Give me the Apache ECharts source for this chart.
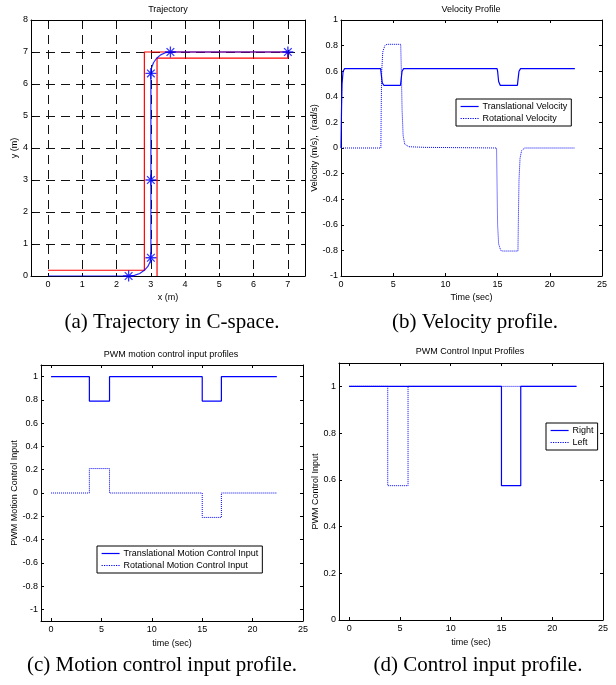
<!DOCTYPE html>
<html>
<head>
<meta charset="utf-8">
<script src="https://cdn.jsdelivr.net/npm/echarts@6/dist/echarts.min.js"></script>
<style>
  html, body { margin: 0; padding: 0; background: #fff; }
  #main { width: 616px; height: 685px; }
</style>
</head>
<body>
<div id="main"></div>
<script>
// (a) trajectory in C-space
var corridorLeft = [[0, 0.18], [2.81, 0.18], [2.81, 7.0], [7.0, 7.0]];
var corridorRight = [[3.18, 0], [3.18, 6.81], [7.0, 6.81], [7.0, 7.0]];
var pathXY = [
  [0, 0], [2.35, 0], [2.52, 0.02], [2.675, 0.08], [2.81, 0.176], [2.913, 0.3],
  [2.978, 0.445], [3.0, 0.6], [3.0, 6.33], [3.019, 6.503], [3.076, 6.665],
  [3.167, 6.804], [3.285, 6.91], [3.422, 6.977], [3.57, 7.0], [7.0, 7.0]
];
var waypoints = [[2.35, 0], [3.0, 0.57], [3.0, 3.0], [3.0, 6.33], [3.57, 7.0], [7.0, 7.0]];

// (b) velocity profile
var transVel = [
  [0, 0], [0.05, 0.3], [0.1, 0.5], [0.2, 0.6], [0.35, 0.62], [3.8, 0.62], [3.85, 0.58],
  [3.95, 0.51], [4.1, 0.49], [5.7, 0.49], [5.75, 0.53], [5.85, 0.6], [6.0, 0.62],
  [14.95, 0.62], [15.0, 0.6], [15.1, 0.52], [15.25, 0.49], [16.9, 0.49], [16.95, 0.53],
  [17.05, 0.6], [17.2, 0.62], [22.4, 0.62]
];
var rotVel = [
  [0, 0], [3.82, 0], [3.85, 0.3], [3.9, 0.6], [4.0, 0.75], [4.2, 0.8], [4.4, 0.81],
  [5.72, 0.81], [5.78, 0.6], [5.85, 0.3], [5.95, 0.1], [6.1, 0.03], [6.5, 0.01],
  [8.0, 0.005], [14.9, 0], [14.95, -0.3], [15.0, -0.6], [15.1, -0.75], [15.3, -0.8],
  [15.5, -0.805], [16.95, -0.805], [17.0, -0.5], [17.05, -0.25], [17.15, -0.08],
  [17.3, -0.02], [17.6, 0], [22.4, 0]
];

// (c) motion control inputs
var transInput = [[0, 1], [3.8, 1], [3.8, 0.79], [5.8, 0.79], [5.8, 1], [15, 1], [15, 0.79], [16.9, 0.79], [16.9, 1], [22.4, 1]];
var rotInput = [[0, 0], [3.8, 0], [3.8, 0.21], [5.8, 0.21], [5.8, 0], [15, 0], [15, -0.21], [16.9, -0.21], [16.9, 0], [22.4, 0]];

// (d) wheel control inputs
var rightInput = [[0, 1], [15, 1], [15, 0.575], [16.9, 0.575], [16.9, 1], [22.4, 1]];
var leftInput = [[0, 1], [3.8, 1], [3.8, 0.575], [5.8, 0.575], [5.8, 1], [22.4, 1]];

var titles = ['Trajectory', 'Velocity Profile', 'PWM motion control input profiles', 'PWM Control Input Profiles'];
var captions = ['(a) Trajectory in C-space.', '(b) Velocity profile.', '(c) Motion control input profile.', '(d) Control input profile.'];

var BLUE = '#0000ff';
var RED = '#ff0000';
var FONT = 'Liberation Sans, Arial, sans-serif';

var myChart = echarts.init(document.getElementById('main'));

function mainX(grid, opt) {
  return Object.assign({
    type: 'value', gridIndex: grid, position: 'bottom',
    nameLocation: 'middle', nameGap: 16,
    nameTextStyle: { fontSize: 9, fontFamily: FONT, color: '#000' },
    axisLine: { onZero: false, lineStyle: { color: '#000', width: 1 } },
    axisTick: { inside: true, length: 3, lineStyle: { color: '#000' } },
    axisLabel: { fontSize: 9, fontFamily: FONT, color: '#000', margin: 4, showMinLabel: false },
    splitLine: { show: false }
  }, opt);
}
function mainY(grid, opt) {
  return Object.assign({
    type: 'value', gridIndex: grid, position: 'left',
    nameLocation: 'middle', nameGap: 20,
    nameTextStyle: { fontSize: 9, fontFamily: FONT, color: '#000' },
    axisLine: { onZero: false, lineStyle: { color: '#000', width: 1 } },
    axisTick: { inside: true, length: 3, lineStyle: { color: '#000' } },
    axisLabel: { fontSize: 9, fontFamily: FONT, color: '#000', margin: 3 },
    splitLine: { show: false }
  }, opt);
}
function mirror(kind, grid, min, max, extra) {
  return Object.assign({
    type: 'value', gridIndex: grid, position: kind === 'x' ? 'top' : 'right',
    min: min, max: max,
    axisLine: { onZero: false, lineStyle: { color: '#000', width: 1 } },
    axisTick: { inside: true, length: 3, lineStyle: { color: '#000' } },
    axisLabel: { show: false },
    splitLine: { show: false }
  }, extra);
}

var gridDash = { show: true, lineStyle: { color: '#111', width: 1, type: [9, 6] } };

var option = {
  backgroundColor: '#fff',
  animation: false,
  title: [
    { text: titles[0], left: 168, top: 5, textAlign: 'center' },
    { text: titles[1], left: 471, top: 5, textAlign: 'center' },
    { text: titles[2], left: 171, top: 350, textAlign: 'center' },
    { text: titles[3], left: 470, top: 347, textAlign: 'center' }
  ].map(function (t) {
    t.padding = 0;
    t.textStyle = { fontSize: 9, fontWeight: 'normal', fontFamily: FONT, color: '#000' };
    return t;
  }),
  graphic: [
    { left: 172, top: 312, caption: 0 },
    { left: 475, top: 312, caption: 1 },
    { left: 162, top: 655, caption: 2 },
    { left: 478, top: 655, caption: 3 }
  ].map(function (g) {
    return {
      type: 'text', x: g.left, y: g.top,
      style: { text: captions[g.caption], font: '21px "Liberation Serif", "Times New Roman", serif', fill: '#000', textAlign: 'center' }
    };
  }),
  legend: [
    {
      data: ['Translational Velocity', 'Rotational Velocity'],
      left: 456, top: 99, orient: 'vertical'
    },
    {
      data: ['Translational Motion Control Input', 'Rotational Motion Control Input'],
      left: 97, top: 546, orient: 'vertical'
    },
    {
      data: ['Right', 'Left'],
      left: 546, top: 423, orient: 'vertical'
    }
  ].map(function (l) {
    l.borderColor = '#000';
    l.borderWidth = 1;
    l.borderRadius = 0;
    l.backgroundColor = '#fff';
    l.padding = [3, 4, 3, 4];
    l.itemGap = 3;
    l.itemWidth = 18;
    l.itemHeight = 10;
    l.selectedMode = false;
    l.itemStyle = { color: 'transparent', borderColor: 'transparent', borderWidth: 0, opacity: 0 };
    l.lineStyle = { width: 1.2, color: BLUE };
    l.textStyle = { fontSize: 9, fontFamily: FONT, color: '#000', padding: [0, 0, 0, -1] };
    return l;
  }),
  grid: [
    { left: 31, top: 20, width: 274, height: 256 },
    { left: 341, top: 20, width: 261, height: 256 },
    { left: 41, top: 365, width: 262, height: 256 },
    { left: 339, top: 363, width: 264, height: 257 }
  ],
  xAxis: [
    mainX(0, { min: -0.5, max: 7.5, splitNumber: 8, name: 'x (m)', nameGap: 17, splitLine: gridDash,
      axisLabel: { fontSize: 9, fontFamily: FONT, color: '#000', margin: 4, showMinLabel: false, showMaxLabel: false } }),
    mainX(1, { min: 0, max: 25, interval: 5, name: 'Time (sec)', nameGap: 17,
      axisLabel: { fontSize: 9, fontFamily: FONT, color: '#000', margin: 4 } }),
    mainX(2, { min: -1, max: 25, splitNumber: 5, name: 'time (sec)', nameGap: 18 }),
    mainX(3, { min: -1, max: 25, splitNumber: 5, name: 'time (sec)', nameGap: 18 }),
    mirror('x', 0, -0.5, 7.5, { splitNumber: 8 }),
    mirror('x', 1, 0, 25, { interval: 5 }),
    mirror('x', 2, -1, 25, { splitNumber: 5 }),
    mirror('x', 3, -1, 25, { splitNumber: 5 })
  ],
  yAxis: [
    mainY(0, { min: 0, max: 8, interval: 1, name: 'y (m)', nameGap: 12, splitLine: gridDash }),
    mainY(1, { min: -1, max: 1, interval: 0.2, name: 'Velocity (m/s),  (rad/s)', nameGap: 20 }),
    mainY(2, { min: -1.1, max: 1.1, splitNumber: 11, name: 'PWM Motion Control Input', nameGap: 20,
      axisLabel: { fontSize: 9, fontFamily: FONT, color: '#000', margin: 3, showMinLabel: false, showMaxLabel: false } }),
    mainY(3, { min: 0, max: 1.1, splitNumber: 6, name: 'PWM Control Input', nameGap: 18,
      axisLabel: { fontSize: 9, fontFamily: FONT, color: '#000', margin: 3, showMaxLabel: false } }),
    mirror('y', 0, 0, 8, { interval: 1 }),
    mirror('y', 1, -1, 1, { interval: 0.2 }),
    mirror('y', 2, -1.1, 1.1, { splitNumber: 11 }),
    mirror('y', 3, 0, 1.1, { splitNumber: 6 })
  ],
  series: [
    { name: 'corridorL', type: 'line', xAxisIndex: 0, yAxisIndex: 0, data: corridorLeft, symbol: 'none',
      lineStyle: { color: RED, width: 1.2 }, z: 3 },
    { name: 'corridorR', type: 'line', xAxisIndex: 0, yAxisIndex: 0, data: corridorRight, symbol: 'none',
      lineStyle: { color: RED, width: 1.2 }, z: 3 },
    { name: 'path', type: 'line', xAxisIndex: 0, yAxisIndex: 0, data: pathXY, symbol: 'none', smooth: false,
      lineStyle: { color: BLUE, width: 1.2, opacity: 0.85 }, z: 4 },
    { name: 'waypoints', type: 'scatter', xAxisIndex: 0, yAxisIndex: 0, data: waypoints,
      symbol: 'path://M5,0L5,10M0,5L10,5M1.5,1.5L8.5,8.5M1.5,8.5L8.5,1.5', symbolSize: 11,
      itemStyle: { color: 'transparent', borderColor: BLUE, borderWidth: 1.3 }, z: 5 },

    { name: 'Translational Velocity', type: 'line', xAxisIndex: 1, yAxisIndex: 1, data: transVel, symbol: 'none',
      color: BLUE, lineStyle: { color: BLUE, width: 1.2 } },
    { name: 'Rotational Velocity', type: 'line', xAxisIndex: 1, yAxisIndex: 1, data: rotVel, symbol: 'none',
      color: BLUE, lineStyle: { color: BLUE, width: 1, type: 'dotted' } },

    { name: 'Translational Motion Control Input', type: 'line', xAxisIndex: 2, yAxisIndex: 2, data: transInput, symbol: 'none',
      color: BLUE, lineStyle: { color: BLUE, width: 1.2 } },
    { name: 'Rotational Motion Control Input', type: 'line', xAxisIndex: 2, yAxisIndex: 2, data: rotInput, symbol: 'none',
      color: BLUE, lineStyle: { color: BLUE, width: 1, type: 'dotted' } },

    { name: 'Right', type: 'line', xAxisIndex: 3, yAxisIndex: 3, data: rightInput, symbol: 'none',
      color: BLUE, lineStyle: { color: BLUE, width: 1.2 } },
    { name: 'Left', type: 'line', xAxisIndex: 3, yAxisIndex: 3, data: leftInput, symbol: 'none',
      color: BLUE, lineStyle: { color: BLUE, width: 1, type: 'dotted' }, z: 3 }
  ]
};
myChart.setOption(option);
</script>
</body>
</html>
